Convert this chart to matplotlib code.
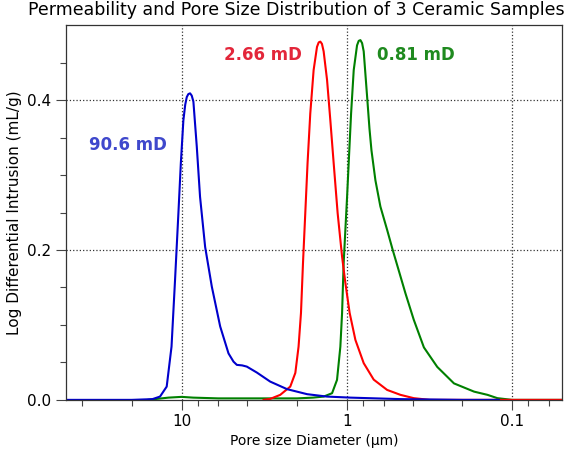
import numpy as np
import matplotlib.pyplot as plt
from matplotlib.ticker import FixedLocator, NullFormatter

# pore diameter (um) and log differential intrusion (mL/g)
blue_d = [50, 20, 15, 13.5, 12.3, 11.5, 10.95, 10.45, 10.1, 9.75, 9.5, 9.3, 9.1, 8.88,
          8.68, 8.48, 8.09, 7.73, 7.2, 6.56, 5.84, 5.2, 4.85, 4.63, 4.3, 4.03, 3.5,
          2.91, 2.3, 1.74, 1.32, 0.95, 0.47, 0.2, 0.12]
blue_y = [0.0, 0.0, 0.001, 0.0044, 0.0177, 0.071, 0.16, 0.249, 0.316, 0.373, 0.394,
          0.404, 0.408, 0.409, 0.406, 0.398, 0.338, 0.271, 0.204, 0.151, 0.098,
          0.062, 0.051, 0.0467, 0.046, 0.0444, 0.0364, 0.0244, 0.0143, 0.0076,
          0.0044, 0.003, 0.001, 0.0, 0.0]

red_d = [3.2, 2.91, 2.53, 2.2, 2.05, 1.96, 1.895, 1.843, 1.785, 1.729, 1.665, 1.589,
         1.516, 1.48, 1.447, 1.415, 1.382, 1.318, 1.259, 1.202, 1.137, 1.069, 1.021,
         0.962, 0.888, 0.791, 0.688, 0.571, 0.474, 0.394, 0.316, 0.1, 0.05]
red_y = [0.0, 0.0013, 0.0067, 0.0177, 0.036, 0.071, 0.116, 0.182, 0.249, 0.316,
         0.382, 0.44, 0.471, 0.477, 0.478, 0.475, 0.465, 0.427, 0.373, 0.316, 0.249,
         0.191, 0.156, 0.116, 0.08, 0.049, 0.027, 0.0133, 0.0067, 0.0023, 0.0, 0.0,
         0.0]

green_d = [16, 12, 10, 8.5, 6, 3, 2, 1.6, 1.382, 1.229, 1.147, 1.095, 1.069, 1.046,
           1.021, 0.997, 0.975, 0.943, 0.909, 0.868, 0.848, 0.828, 0.809, 0.791,
           0.754, 0.73, 0.71, 0.672, 0.627, 0.571, 0.528, 0.486, 0.442, 0.394,
           0.342, 0.284, 0.225, 0.17, 0.141, 0.123, 0.1, 0.05]
green_y = [0.0, 0.003, 0.004, 0.003, 0.002, 0.002, 0.002, 0.003, 0.0044, 0.0089,
           0.0267, 0.071, 0.116, 0.182, 0.227, 0.271, 0.316, 0.382, 0.44, 0.473,
           0.479, 0.48, 0.476, 0.465, 0.404, 0.362, 0.333, 0.293, 0.258, 0.227,
           0.2, 0.173, 0.142, 0.107, 0.07, 0.044, 0.022, 0.011, 0.0067, 0.0023,
           0.0, 0.0]

labels = ['90.6 mD', '2.66 mD', '0.81 mD']
label_pos = [(21.1, 0.34), (3.21, 0.46), (0.382, 0.46)]

fig = plt.figure(figsize=(5.74, 4.57), dpi=100)
ax = fig.add_axes([0.115, 0.125, 0.864, 0.82])

line_kw = dict(lw=1.5, solid_joinstyle='round', solid_capstyle='round')
ax.plot(green_d, green_y, color='#008000', **line_kw)
ax.plot(red_d, red_y, color='#ff0000', **line_kw)
ax.plot(blue_d, blue_y, color='#0000cc', **line_kw)

ax.set_xscale('log')
ax.set_xlim(50, 0.05)
ax.set_ylim(0, 0.5)

ax.xaxis.set_major_locator(FixedLocator([10, 1, 0.1]))
ax.set_xticklabels(['10', '1', '0.1'])
minor_x = [m * 10.0 ** k for k in range(-2, 2) for m in (2, 4, 6, 8)]
ax.xaxis.set_minor_locator(FixedLocator(minor_x))
ax.xaxis.set_minor_formatter(NullFormatter())

ax.set_yticks([0.0, 0.2, 0.4])
ax.set_yticklabels(['0.0', '0.2', '0.4'])
ax.yaxis.set_minor_locator(FixedLocator(np.arange(0, 0.5, 0.05)))

ax.tick_params(which='major', length=7, width=0.8, color='#444444', labelsize=11)
ax.tick_params(which='minor', length=4, width=0.8, color='#444444')
for s in ax.spines.values():
    s.set_color('#333333')
    s.set_linewidth(0.9)

ax.grid(True, which='major', axis='x', ls=':', color='#333333', lw=0.9)
for yv in [0.2, 0.4]:
    ax.axhline(yv, ls=':', color='#333333', lw=0.9, zorder=0)

ax.set_xlabel('Pore size Diameter (\u03bcm)', fontsize=10, labelpad=3)
ax.set_ylabel('Log Differential Intrusion (mL/g)', fontsize=11, labelpad=4)
fig.text(296 / 574, 1 - 10 / 457,
         'Permeability and Pore Size Distribution of 3 Ceramic Samples',
         fontsize=12.5, ha='center', va='center')

text_colors = ['#3f48cc', '#e3263a', '#1f8a1f']
for lab, (xv, yv), c in zip(labels, label_pos, text_colors):
    ax.text(xv, yv, lab, color=c, fontsize=12, fontweight='bold',
            ha='center', va='center')

fig.savefig('out.png', dpi=100)
